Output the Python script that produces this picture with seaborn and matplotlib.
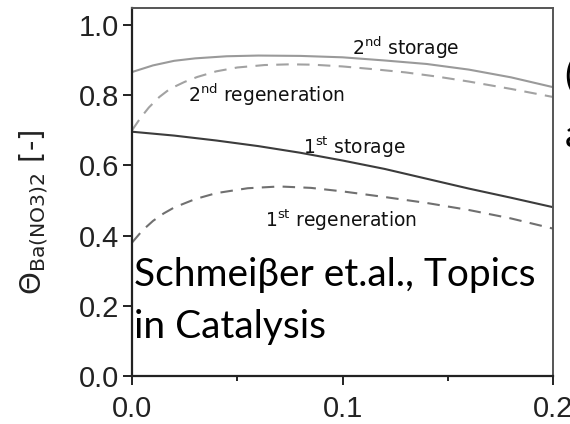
import matplotlib
matplotlib.use("Agg")
import matplotlib.pyplot as plt
import seaborn as sns
import pandas as pd

# Coverage of Ba(NO3)2 along the catalyst, for two storage/regeneration cycles
x_2nd_storage = [0, 0.01, 0.02, 0.03, 0.045, 0.06, 0.08, 0.1, 0.12, 0.14, 0.16, 0.18, 0.2]
y_2nd_storage = [0.866, 0.885, 0.898, 0.905, 0.911, 0.913, 0.912, 0.908, 0.899, 0.889, 0.873, 0.851, 0.823]

x_2nd_regen = [0, 0.004, 0.008, 0.013, 0.018, 0.025, 0.031, 0.04, 0.05, 0.063, 0.075,
               0.086, 0.1, 0.115, 0.13, 0.145, 0.16, 0.18, 0.2]
y_2nd_regen = [0.700, 0.735, 0.765, 0.795, 0.818, 0.838, 0.852, 0.868, 0.879, 0.886, 0.888,
               0.887, 0.882, 0.874, 0.865, 0.853, 0.839, 0.818, 0.795]

x_1st_storage = [0, 0.02, 0.04, 0.06, 0.08, 0.1, 0.12, 0.14, 0.16, 0.18, 0.2]
y_1st_storage = [0.696, 0.685, 0.671, 0.655, 0.636, 0.614, 0.590, 0.562, 0.534, 0.508, 0.481]

x_1st_regen = [0, 0.005, 0.01, 0.015, 0.02, 0.03, 0.04, 0.055, 0.07, 0.085, 0.1,
               0.12, 0.14, 0.16, 0.18, 0.2]
y_1st_regen = [0.380, 0.415, 0.442, 0.463, 0.480, 0.504, 0.521, 0.535, 0.540, 0.536, 0.526,
               0.510, 0.493, 0.473, 0.449, 0.420]

x_ticks = [0.0, 0.1, 0.2]
x_tick_labels = ["0.0", "0.1", "0.2"]
x_minor_ticks = [0.05, 0.15]
y_ticks = [0.0, 0.2, 0.4, 0.6, 0.8, 1.0]
y_tick_labels = ["0.0", "0.2", "0.4", "0.6", "0.8", "1.0"]

sns.set_style("ticks")
plt.rcParams["font.family"] = ["Liberation Sans", "DejaVu Sans"]
plt.rcParams["mathtext.fontset"] = "dejavusans"

fig = plt.figure(figsize=(5.7, 4.24), dpi=100)
ax = fig.add_axes([132 / 570, 1 - 376 / 424, 421 / 570, 368 / 424])

series = [
    (x_2nd_storage, y_2nd_storage, "#9a9a9a", "-"),
    (x_2nd_regen, y_2nd_regen, "#a2a2a2", (0, (6, 4))),
    (x_1st_storage, y_1st_storage, "#3c3c3c", "-"),
    (x_1st_regen, y_1st_regen, "#707070", (0, (6, 4))),
]
for xs, ys, col, ls in series:
    df = pd.DataFrame({"x": xs, "y": ys})
    sns.lineplot(data=df, x="x", y="y", ax=ax, color=col, linewidth=1.5,
                 linestyle=ls, sort=False, clip_on=False)

ax.set_xlim(0, 0.2)
ax.set_ylim(0, 1.0485)
ax.set_xlabel("")
ax.set_ylabel("")

ax.set_xticks(x_ticks)
ax.set_xticklabels(x_tick_labels)
ax.set_xticks(x_minor_ticks, minor=True)
ax.set_yticks(y_ticks)
ax.set_yticklabels(y_tick_labels)
ax.tick_params(axis="both", which="major", direction="out", length=6.5, width=1.4,
               color="#222222", labelsize=21, labelcolor="#222222")
ax.tick_params(axis="x", which="major", pad=7)
ax.tick_params(axis="y", which="major", pad=3)
ax.tick_params(axis="x", which="minor", direction="out", length=3.8, width=1.4, color="#222222")

for side in ["left", "bottom"]:
    ax.spines[side].set_color("#222222")
    ax.spines[side].set_linewidth(1.6)
for side in ["top", "right"]:
    ax.spines[side].set_color("#555555")
    ax.spines[side].set_linewidth(1.4)

# curve labels
lab_kw = dict(fontsize=13.5, family="DejaVu Sans", ha="center", va="center", color="#111111")
ax.text(0.130, 0.934, "2$^{\\mathrm{nd}}$ storage", **lab_kw)
ax.text(0.0638, 0.800, "2$^{\\mathrm{nd}}$ regeneration", **lab_kw)
ax.text(0.1055, 0.652, "1$^{\\mathrm{st}}$ storage", **lab_kw)
ax.text(0.0994, 0.444, "1$^{\\mathrm{st}}$ regeneration", **lab_kw)

# y-axis label
fig.text(33 / 570, 1 - 212 / 424, r"$\Theta_{\mathrm{Ba(NO3)2}}$ [-]", rotation=90,
         ha="center", va="center", fontsize=21, family="DejaVu Sans", color="#222222")

# citation
cite_kw = dict(fontsize=28, family=["Lato", "Noto Sans", "DejaVu Sans"], color="black",
               ha="left", va="baseline")
fig.text(134 / 570, 1 - 286 / 424, "Schmeiβer et.al., Topics", **cite_kw)
fig.text(134 / 570, 1 - 338 / 424, "in Catalysis", **cite_kw)

# text running off the right edge
fig.text(564 / 570, 1 - 87 / 424, "(", **cite_kw)
fig.text(565 / 570, 1 - 147 / 424, "a", **cite_kw)

fig.savefig("out.png", dpi=100)
